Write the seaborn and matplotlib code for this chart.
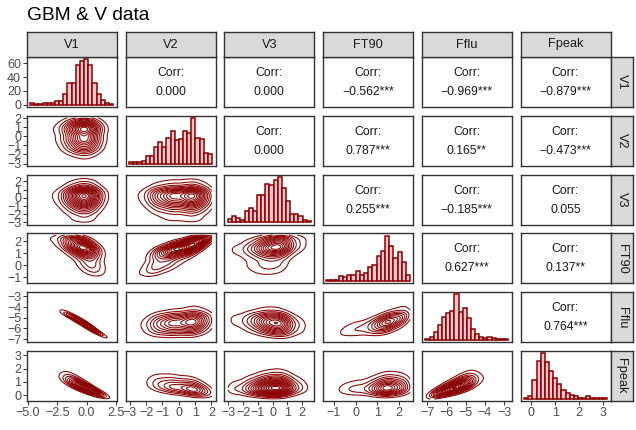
import math
import numpy as np
import pandas as pd
import matplotlib
matplotlib.use("Agg")
import matplotlib.pyplot as plt
import seaborn as sns

# ---------------- data ----------------
variables = ["V1", "V2", "V3", "FT90", "Fflu", "Fpeak"]

# histogram counts (20 bins)
counts_V1 = [2, 1, 1, 3, 2, 3, 5, 6, 16, 32, 32, 57, 64, 66, 57, 32, 16, 7, 3, 1]
counts_V2 = [2, 2, 2, 3, 8, 9, 19, 24, 18, 29, 37, 26, 27, 36, 34, 51, 29, 27, 12, 11]
counts_V3 = [4, 7, 5, 3, 13, 16, 13, 31, 31, 44, 43, 48, 52, 39, 24, 10, 9, 7, 3, 2]
counts_FT90 = [2, 1, 1, 7, 6, 9, 9, 14, 8, 11, 19, 22, 35, 42, 63, 49, 32, 40, 27, 9]
counts_Fflu = [2, 4, 12, 23, 36, 41, 44, 70, 43, 49, 34, 17, 9, 5, 3, 4, 3, 1, 1, 2]
counts_Fpeak = [2, 4, 32, 66, 79, 63, 48, 36, 25, 15, 10, 6, 4, 1, 2, 5, 2, 2, 1, 2]

# outer edges of the histogram bars
hist_lo = [-4.83, -3.04, -3.02, -1.35, -7.10, -0.30]
hist_hi = [2.27, 2.03, 2.60, 2.51, -2.79, 3.17]

# axis limits per variable
axis_lo = [-5.09, -3.25, -3.27, -1.50, -7.29, -0.45]
axis_hi = [2.59, 2.26, 2.84, 2.65, -2.60, 3.32]

# tick values per variable
ticks_V1 = [-5.0, -2.5, 0.0, 2.5]
ticks_V2 = [-3, -2, -1, 0, 1, 2]
ticks_V3 = [-3, -2, -1, 0, 1, 2]
ticks_FT90 = [-1, 0, 1, 2]
ticks_Fflu = [-7, -6, -5, -4, -3]
ticks_Fpeak = [0, 1, 2, 3]
count_ticks = [0, 20, 40, 60]

# upper-triangle correlations (row var, col var)
corr_rows = [0, 0, 0, 0, 0, 1, 1, 1, 1, 2, 2, 2, 3, 3, 4]
corr_cols = [1, 2, 3, 4, 5, 2, 3, 4, 5, 3, 4, 5, 4, 5, 5]
corr_values = [0.000, 0.000, -0.562, -0.969, -0.879, 0.000, 0.787, 0.165, -0.473,
               0.255, -0.185, 0.055, 0.627, 0.137, 0.764]
corr_stars = ["", "", "***", "***", "***", "", "***", "**", "***",
              "***", "***", "", "***", "**", "***"]

title = "GBM & V data"

# ---------------- style ----------------
sns.set_theme(style="white")
plt.rcParams["font.family"] = ["Liberation Sans", "DejaVu Sans"]
plt.rcParams["axes.unicode_minus"] = True

DARK = "#8B0000"
FILL = "#F6C5CC"
BORDER = "#333333"
TICKC = "#4D4D4D"
STRIP = "#D9D9D9"
FS_TICK = 9.0
FS_STRIP = 9.2
FS_CORR = 8.8

counts = [counts_V1, counts_V2, counts_V3, counts_FT90, counts_Fflu, counts_Fpeak]
ticks = [ticks_V1, ticks_V2, ticks_V3, ticks_FT90, ticks_Fflu, ticks_Fpeak]

W_PX, H_PX = 636, 430
fig = plt.figure(figsize=(W_PX / 100, H_PX / 100), dpi=100)

L0, CSTEP, PW = 27.0, 98.7, 90.0
T0, RSTEP, PH = 57.0, 58.8, 50.0


def rect(left, top, w, h):
    return [left / W_PX, 1 - (top + h) / H_PX, w / W_PX, h / H_PX]


def fmt(v, dec):
    s = f"{abs(v):.{dec}f}"
    return ("\u2212" + s) if v < 0 else s


_z = np.linspace(-7, 7, 3001)
_erf = np.vectorize(math.erf)
_Phi = 0.5 * (1 + _erf(_z / math.sqrt(2)))


def Phi(x):
    return 0.5 * (1 + _erf(x / math.sqrt(2)))


def phi_inv(p):
    return np.interp(np.clip(p, 1e-6, 1 - 1e-6), _Phi, _z)


def marginal(i, grid):
    c = np.asarray(counts[i], float)
    n = len(c)
    w = (hist_hi[i] - hist_lo[i]) / n
    centers = hist_lo[i] + w * (np.arange(n) + 0.5)
    h = 1.3 * w
    d = (grid[:, None] - centers[None, :]) / h
    dens = (c[None, :] * np.exp(-0.5 * d ** 2)).sum(1) / (h * math.sqrt(2 * math.pi) * c.sum())
    cdf = (c[None, :] * Phi(d)).sum(1) / c.sum()
    return dens, cdf


def corr_of(a, b):
    for r, cc, v in zip(corr_rows, corr_cols, corr_values):
        if (r == a and cc == b) or (r == b and cc == a):
            return v
    return 0.0


def nice_levels(zmax, n=12):
    raw = zmax / n
    mag = 10 ** math.floor(math.log10(raw))
    cands = np.array([1, 2, 5, 10]) * mag
    step = cands[np.argmin(np.abs(np.log(cands / raw)))]
    return np.arange(step, zmax, step)


def style_axis(ax):
    for s in ax.spines.values():
        s.set_color(BORDER)
        s.set_linewidth(1.0)
        s.set_visible(True)
    ax.set_facecolor("white")
    ax.tick_params(axis="both", length=3, width=0.7, color=BORDER,
                   labelcolor=TICKC, labelsize=FS_TICK, pad=1.2,
                   bottom=False, left=False, labelbottom=False, labelleft=False)
    ax.set_xlabel("")
    ax.set_ylabel("")


n = len(variables)
for r in range(n):
    for c in range(n):
        ax = fig.add_axes(rect(L0 + c * CSTEP, T0 + r * RSTEP, PW, PH))
        if r == c:
            cnt = np.asarray(counts[c], float)
            nb = len(cnt)
            edges = np.linspace(hist_lo[c], hist_hi[c], nb + 1)
            df = pd.DataFrame({"x": 0.5 * (edges[:-1] + edges[1:]), "w": cnt})
            sns.histplot(data=df, x="x", weights="w", bins=list(edges), ax=ax,
                         color=FILL, edgecolor=DARK, linewidth=1.1, alpha=1.0)
            ax.set_xlim(axis_lo[c], axis_hi[c])
            ax.set_ylim(-0.05 * cnt.max(), 1.05 * cnt.max())
        elif r > c:
            xg = np.linspace(hist_lo[c], hist_hi[c], 200)
            yg = np.linspace(hist_lo[r], hist_hi[r], 200)
            fx, Fx = marginal(c, xg)
            fy, Fy = marginal(r, yg)
            z1 = phi_inv(Fx)[None, :]
            z2 = phi_inv(Fy)[:, None]
            rho = corr_of(r, c)
            cop = np.exp(-(rho ** 2 * (z1 ** 2 + z2 ** 2) - 2 * rho * z1 * z2)
                         / (2 * (1 - rho ** 2))) / math.sqrt(1 - rho ** 2)
            Z = cop * fy[:, None] * fx[None, :]
            ax.contour(xg, yg, Z, levels=nice_levels(Z.max()), colors=DARK,
                       linewidths=0.75)
            ax.set_xlim(axis_lo[c], axis_hi[c])
            ax.set_ylim(axis_lo[r], axis_hi[r])
        else:
            v = corr_of(r, c)
            k = [i for i in range(len(corr_rows)) if corr_rows[i] == r and corr_cols[i] == c][0]
            ax.set_xlim(0, 1)
            ax.set_ylim(0, 1)
            ax.text(0.5, 0.68, "Corr:", ha="center", va="center", fontsize=FS_CORR,
                    color="#1A1A1A", transform=ax.transAxes)
            ax.text(0.5, 0.30, fmt(v, 3) + corr_stars[k], ha="center", va="center",
                    fontsize=FS_CORR, color="#1A1A1A", transform=ax.transAxes)
        style_axis(ax)
        if r == n - 1:
            ax.set_xticks(ticks[c])
            dec = 1 if c == 0 else 0
            ax.set_xticklabels([fmt(t, dec) for t in ticks[c]])
            ax.tick_params(axis="x", bottom=True, labelbottom=True)
        if c == 0:
            if r == 0:
                ax.set_yticks(count_ticks)
                ax.set_yticklabels([fmt(t, 0) for t in count_ticks])
            else:
                ax.set_yticks(ticks[r])
                ax.set_yticklabels([fmt(t, 0) for t in ticks[r]])
            ax.tick_params(axis="y", left=True, labelleft=True)

# top strips
for c in range(n):
    sa = fig.add_axes(rect(L0 + c * CSTEP, 32, PW, T0 - 32))
    sa.set_facecolor(STRIP)
    sa.set_xticks([])
    sa.set_yticks([])
    for s in sa.spines.values():
        s.set_color(BORDER)
        s.set_linewidth(1.0)
        s.set_visible(True)
    sa.text(0.5, 0.5, variables[c], ha="center", va="center", fontsize=FS_STRIP,
            color="#1A1A1A", transform=sa.transAxes)

# right strips
for r in range(n):
    sa = fig.add_axes(rect(L0 + 5 * CSTEP + PW, T0 + r * RSTEP, 22, PH))
    sa.set_facecolor(STRIP)
    sa.set_xticks([])
    sa.set_yticks([])
    for s in sa.spines.values():
        s.set_color(BORDER)
        s.set_linewidth(1.0)
        s.set_visible(True)
    sa.text(0.5, 0.5, variables[r], ha="center", va="center", fontsize=FS_STRIP,
            color="#1A1A1A", rotation=-90, transform=sa.transAxes)

fig.text(27 / W_PX, 1 - 20 / H_PX, title, ha="left", va="baseline",
         fontsize=13.8, color="black")

fig.savefig("out.png", dpi=100)
